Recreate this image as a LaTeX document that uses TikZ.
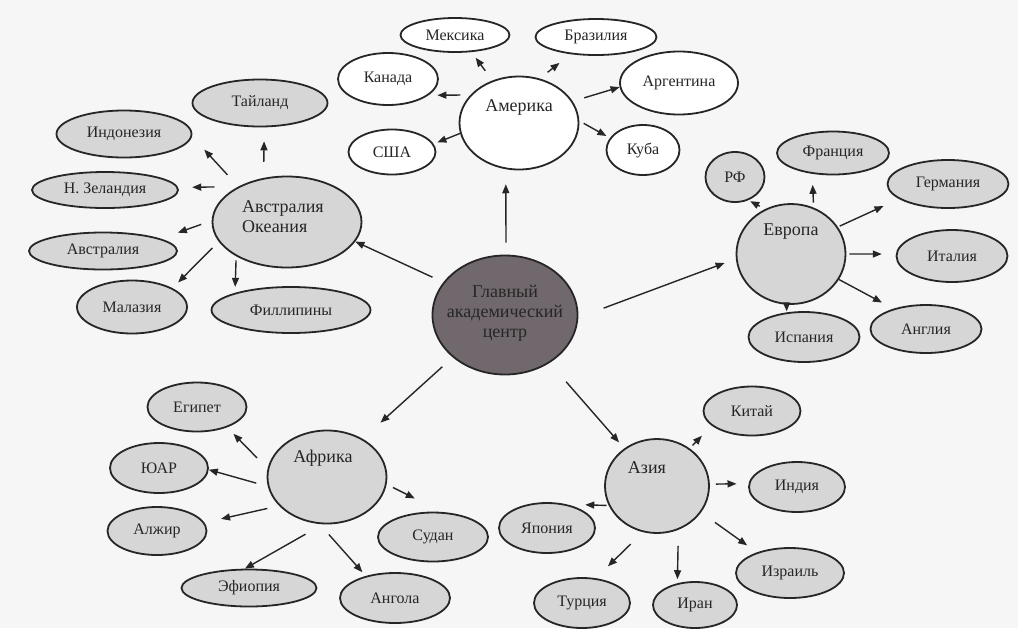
\documentclass[tikz,border=0pt]{standalone}
\usepackage{fontspec}
\setmainfont{Liberation Serif}
\usetikzlibrary{shapes.geometric,arrows.meta}
\definecolor{paper}{RGB}{246,246,246}
\definecolor{lightfill}{RGB}{214,214,214}
\definecolor{darkfill}{RGB}{112,104,108}
\definecolor{ink}{RGB}{38,38,38}
\tikzset{
  oval/.style={ellipse, draw=ink, line width=0.9pt, inner sep=0pt, text=ink,
    font=\fontsize{8}{10}\selectfont},
  leaf/.style={oval, fill=lightfill},
  leafw/.style={oval, fill=white},
  hub/.style={oval, fill=lightfill},
  hubtext/.style={text=ink, inner sep=0pt, font=\fontsize{9}{10}\selectfont},
  arr/.style={draw=ink, line width=0.7pt, -{Triangle[length=4.5pt,width=3.5pt]}},
}

\begin{document}
\begin{tikzpicture}[x=0.5pt, y=-0.5pt]
    \fill[paper] (0,0) rectangle (1018,628);
    \useasboundingbox (0,0) rectangle (1018,628);

    % Hubs
    \node[hub, fill=darkfill, minimum width=72.5pt, minimum height=59.5pt,
      label={[hubtext, align=center, yshift=1pt]center:Главный\\академический\\центр}] (ctr) at (505,315) {};
    \node[hub, fill=white, minimum width=59.5pt, minimum height=46.5pt,
      label={[hubtext, yshift=8pt]center:Америка}] (amer) at (519,123) {};
    \node[hub, minimum width=74.5pt, minimum height=45.5pt,
      label={[hubtext, align=left, xshift=-2pt, yshift=2.5pt]center:Австралия\\Океания}] (aus) at (287,222) {};
    \node[hub, minimum width=54.5pt, minimum height=50pt,
      label={[hubtext, yshift=11pt]center:Европа}] (eur) at (791,254) {};
    \node[hub, minimum width=59.5pt, minimum height=46.5pt,
      label={[hubtext, xshift=-2pt, yshift=9.5pt]center:Африка}] (afr) at (327,477) {};
    \node[hub, minimum width=52pt, minimum height=47pt,
      label={[hubtext, xshift=-5pt, yshift=9pt]center:Азия}] (asia) at (657,486) {};

    % America
    \foreach \n/\x/\y/\w/\h/\txt in {mex/455/35/54.5/17/Мексика, braz/596/37/60.5/18/Бразилия,
        kan/388/79/50/26/Канада, arg/679/83/59/31.5/Аргентина, usa/392/152/43.5/22.5/США,
        cuba/643/150/36.5/25/Куба} {
        \node[leafw, minimum width=\w pt, minimum height=\h pt] (\n) at (\x,\y) {\txt};
    }

    % Australia, Europe, Africa, Asia
    \foreach \n/\x/\y/\w/\h/\txt in {thai/260/103/67.5/23.5/Тайланд, indo/124/134/67.5/23.5/Индонезия,
        nz/105/190/73/18/Н. Зеландия, austr/103/251/74/18.5/Австралия, malay/132/307/55/26.5/Малазия,
        phil/291/310/79.5/23/Филлипины,
        rf/735/177/29.5/25/РФ, fra/833/153/56/21.5/Франция, ger/948/184/60.5/24/Германия,
        ita/952/256/55.5/26/Италия, eng/926/329/55.5/24/Англия, spa/804/337/55.5/25/Испания,
        egy/197/407/49.5/24.5/Египет, sar/159/468/49/25/ЮАР, alg/157/531/49.5/24/Алжир,
        eth/249/588/67.5/18.5/Эфиопия, ang/395/598/55/25/Ангола, sud/433/537/55/24.5/Судан,
        chn/752/411/48.5/24.5/Китай, ind/797/487/48/25/Индия, jap/547/528/48/25/Япония,
        isr/790/573/54/25/Израиль, tur/582/603/48/25/Турция, iran/695/605/42/23/Иран} {
        \node[leaf, minimum width=\w pt, minimum height=\h pt] (\n) at (\x,\y) {\txt};
    }

    % Arrows: from/to anchors, gaps at both ends
    \foreach \a/\b/\s/\e in {ctr.89/amer.254/6/7.5, ctr.152/aus.-16/6/0, ctr.-2/eur.185/13.5/6,
        ctr.219/afr.47/7/12, ctr.-47/asia.131/12.5/4,
        amer.122/mex.-46/6/3.5, amer.65/braz.214/5/7, amer.150/kan.-22/5/4.5,
        amer.190/usa.11/0/2, amer.22/arg.184/6/0, amer.2/cuba.160/2.5/2,
        aus.118/thai.-80/8/7, aus.144/indo.-2/8/9, aus.144/nz.2/12/7,
        aus.179/austr.12/5.5/9, aus.196/malay.25/4.5/4, aus.214/phil.163/2/3,
        eur.120/rf.-60/3/1, eur.64/fra.225/2.5/5.5, eur.30/ger.197/1/8.5,
        eur.0/ita.178/1.5/7, eur.-28/eng.148/0/6.5, eur.265/spa.125/0/0.5,
        afr.172/egy.-34/7.5/4.5, afr.189/sar.-2/6/0, afr.211/alg.10/6/8.5,
        afr.265/eth.102/10/0, afr.261/ang.143/7/2.5, afr.-7/sud.71/3.5/15,
        asia.49/chn.200/2/7, asia.2/ind.176/3/6, asia.202/jap.51/1/9.5,
        asia.-31/isr.148/8.5/6, asia.253/tur.61/8.5/8.5, asia.-64/iran.129/8/2} {
        \draw[arr, shorten <=\s pt, shorten >=\e pt] (\a) -- (\b);
    }

\end{tikzpicture}
\end{document}
